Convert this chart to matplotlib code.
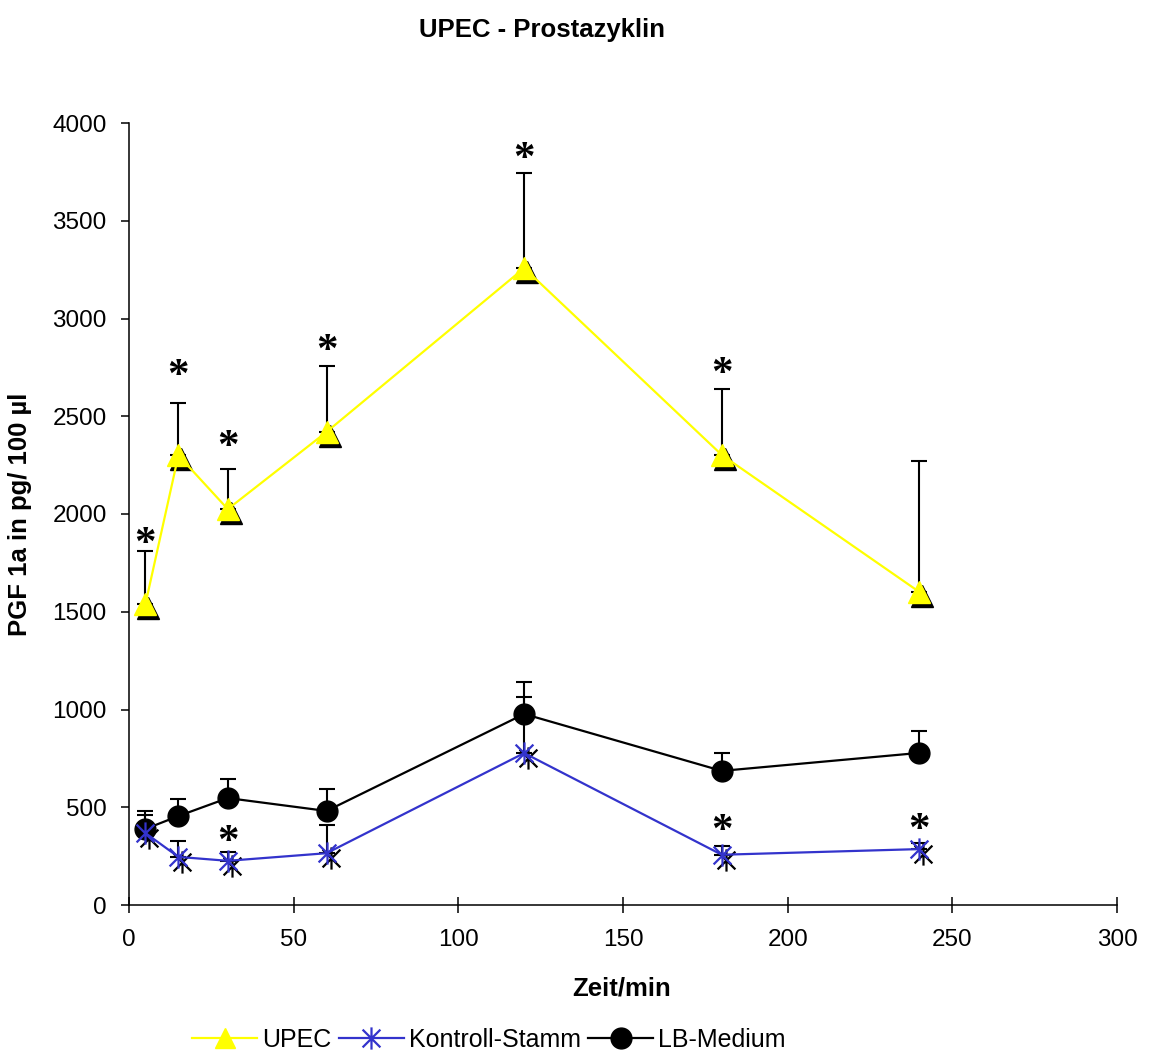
import matplotlib
matplotlib.use("Agg")
import matplotlib.pyplot as plt
import matplotlib.transforms as mtransforms
from matplotlib.path import Path
from matplotlib.lines import Line2D

# ---- data ----
time_min = [5, 15, 30, 60, 120, 180, 240]

upec = [1540, 2300, 2025, 2420, 3258, 2302, 1601]
upec_err = [271, 268, 205, 337, 486, 338, 670]

kontroll = [368, 246, 226, 265, 777, 257, 286]
kontroll_err = [92, 81, 45, 144, 286, 46, 31]

lb_medium = [389, 455, 547, 481, 977, 686, 778]
lb_err = [92, 87, 98, 112, 163, 92, 112]

# significance markers (x, y) for each series
sig_upec_x = [5, 15, 30, 60, 120, 180]
sig_upec_y = [1892, 2752, 2389, 2880, 3862, 2762]
sig_kon_x = [30, 180, 240]
sig_kon_y = [368, 425, 430]

title = "UPEC - Prostazyklin"
xlabel = "Zeit/min"
ylabel = "PGF 1a in pg/ 100 µl"
series_names = ["UPEC", "Kontroll-Stamm", "LB-Medium"]
x_ticks = [0, 50, 100, 150, 200, 250, 300]
y_ticks = [0, 500, 1000, 1500, 2000, 2500, 3000, 3500, 4000]

# ---- style ----
plt.rcParams['font.family'] = ['Liberation Sans', 'DejaVu Sans']
YELLOW = '#FFFF00'
BLUE = '#3333CC'

star_path = Path(
    [(0, -1), (0, 1), (-0.8, -0.8), (0.8, 0.8), (-0.8, 0.8), (0.8, -0.8)],
    [Path.MOVETO, Path.LINETO, Path.MOVETO, Path.LINETO, Path.MOVETO, Path.LINETO])

fig = plt.figure(figsize=(11.5, 10.52), dpi=100)
ax = fig.add_axes([129/1150, 1-905/1052, (1117-129)/1150, (905-123)/1052])

shadow = mtransforms.offset_copy(ax.transData, fig=fig, x=3, y=-4, units='dots')
shadow2 = mtransforms.offset_copy(ax.transData, fig=fig, x=4, y=-5, units='dots')

# error bars (upper only)
for vals, errs in [(upec, upec_err), (kontroll, kontroll_err), (lb_medium, lb_err)]:
    ax.errorbar(time_min, vals, yerr=[[0]*len(errs), errs], fmt='none',
                ecolor='black', elinewidth=1.5, capsize=6, capthick=1.5, zorder=2)

# shadows
ax.plot(time_min, upec, linestyle='none', marker='^', ms=15.5, color='black',
        transform=shadow, zorder=3)
ax.plot(time_min, kontroll, linestyle='none', marker=star_path, ms=16, mew=1.6,
        color='black', transform=shadow2, zorder=3)

# main series
ax.plot(time_min, lb_medium, color='black', lw=1.6, marker='o', ms=15,
        mfc='black', mec='black', zorder=4)
ax.plot(time_min, kontroll, color=BLUE, lw=1.6, marker=star_path, ms=16, mew=1.6,
        mec=BLUE, zorder=5)
ax.plot(time_min, upec, color=YELLOW, lw=1.6, marker='^', ms=15.5,
        mfc=YELLOW, mec=YELLOW, zorder=5)

# significance asterisks
ast_tr = mtransforms.offset_copy(ax.transData, fig=fig, x=0, y=-20, units='dots')
for xs, ys in [(sig_upec_x, sig_upec_y), (sig_kon_x, sig_kon_y)]:
    for xv, yv in zip(xs, ys):
        ax.text(xv, yv, '*', ha='center', va='baseline', fontsize=31,
                family=['Liberation Serif'], fontweight='bold',
                transform=ast_tr, zorder=6)

ax.set_xlim(0, 300)
ax.set_ylim(0, 4000)
ax.set_xticks(x_ticks)
ax.set_yticks(y_ticks)
ax.set_xticklabels([str(v) for v in x_ticks])
ax.set_yticklabels([str(v) for v in y_ticks])
for s in ['top', 'right']:
    ax.spines[s].set_visible(False)
for s in ['left', 'bottom']:
    ax.spines[s].set_linewidth(1.1)
ax.tick_params(axis='y', direction='out', length=6, width=1.1, labelsize=17.5, pad=10)
ax.tick_params(axis='x', direction='inout', length=11, width=1.1, labelsize=17.5, pad=12)

fig.text(542/1150, 1-30/1052, title, ha='center', va='center', fontsize=18.5,
         fontweight='bold')
fig.text(622/1150, 1-988/1052, xlabel, ha='center', va='center', fontsize=18.5,
         fontweight='bold')
fig.text(20/1150, 1-514/1052, ylabel, ha='center', va='center', fontsize=18.5,
         fontweight='bold', rotation=90)

handles = [
    Line2D([], [], color=YELLOW, lw=1.6, marker='^', ms=15, mfc=YELLOW, mec=YELLOW),
    Line2D([], [], color=BLUE, lw=1.6, marker=star_path, ms=16, mew=1.6, mec=BLUE),
    Line2D([], [], color='black', lw=1.6, marker='o', ms=15),
]
fig.legend(handles, series_names, loc='center', bbox_to_anchor=(489/1150, 1-1040/1052),
           ncol=3, frameon=False, fontsize=18, handlelength=2.6, handletextpad=0.2,
           columnspacing=0.3, borderpad=0)

fig.savefig('out.png', dpi=100)
